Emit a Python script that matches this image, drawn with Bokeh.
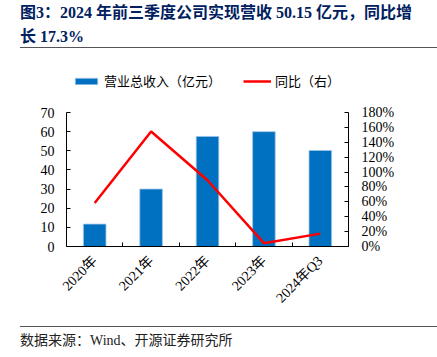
from math import pi
from bokeh.plotting import figure
from bokeh.layouts import column
from bokeh.models import (LinearAxis, Range1d, FixedTicker, Div,
                          PrintfTickFormatter, CustomJSTickFormatter,
                          Legend, LegendItem)
from bokeh.embed import file_html
from bokeh.resources import INLINE

# ---- data ----
categories = ["2020年", "2021年", "2022年", "2023年", "2024年Q3"]
revenue = [11.7, 30.0, 57.5, 60.0, 50.15]          # 营业总收入（亿元）
yoy_pct = [58.5, 154.5, 89.0, 4.5, 17.3]           # 同比（%）
left_ticks = [0, 10, 20, 30, 40, 50, 60, 70]
right_ticks = [0, 20, 40, 60, 80, 100, 120, 140, 160, 180]

title1 = "图3：2024 年前三季度公司实现营收 50.15 亿元，同比增"
title2 = "长 17.3%"
source = "数据来源：Wind、开源证券研究所"

n = len(categories)
xc = [i + 0.5 for i in range(n)]   # category centres

W = 437
NUM_FONT = "Liberation Serif, Noto Sans CJK SC"
CJK_FONT = "Noto Sans CJK SC"

# extra headroom above the axes for the legend (axes drawn only to 70 / 180%)
HEAD = 186 / 134
left_max, right_max = left_ticks[-1], right_ticks[-1]

title_div = Div(text=title1 + "<br>" + title2, width=W - 20, height=48,
                margin=(0, 0, 0, 20),
                styles={"font-family": "'Liberation Serif', 'Noto Sans CJK SC', serif",
                        "font-weight": "bold", "font-size": "16px",
                        "color": "#002060", "line-height": "24px",
                        "white-space": "nowrap",
                        "border-bottom": "1.5px solid #555555",
                        "box-sizing": "border-box", "padding-top": "1px"})

p = figure(width=W, height=278, x_range=(0, n), y_range=(0, left_max * HEAD),
           x_axis_type=None, y_axis_type=None,
           output_backend="svg", toolbar_location=None,
           min_border_left=66, min_border_right=89,
           min_border_top=12, min_border_bottom=80, margin=(0, 0, 0, 0))
p.outline_line_color = None
p.grid.visible = False
p.extra_y_ranges = {"pct": Range1d(0, right_max * HEAD)}

bars = p.vbar(x=xc, top=revenue, width=0.4, fill_color="#0070C0",
              line_color="#9DC3E6", line_width=0.8)
ln = p.line(xc, yoy_pct, y_range_name="pct", line_color="#FF0000",
            line_width=2.5)

def style_axis(ax):
    ax.major_tick_in = 4
    ax.major_tick_out = 0
    ax.minor_tick_line_color = None
    ax.axis_line_color = "#000000"
    ax.major_tick_line_color = "#000000"
    ax.major_label_text_font = NUM_FONT
    ax.major_label_text_font_size = "14px"
    ax.major_label_text_color = "#000000"

la = LinearAxis(ticker=FixedTicker(ticks=left_ticks), bounds=(0, left_max))
style_axis(la)
la.major_label_standoff = 12
p.add_layout(la, "left")

ra = LinearAxis(y_range_name="pct", ticker=FixedTicker(ticks=right_ticks),
                bounds=(0, right_max),
                formatter=PrintfTickFormatter(format="%d%%"))
style_axis(ra)
ra.major_label_standoff = 13
p.add_layout(ra, "right")

ta = LinearAxis(ticker=FixedTicker(ticks=list(range(n + 1))),
                formatter=CustomJSTickFormatter(code="return ''"))
style_axis(ta)
ta.major_label_standoff = 0
p.add_layout(ta, "below")

ca = LinearAxis(ticker=FixedTicker(ticks=xc),
                major_label_overrides={x: c for x, c in zip(xc, categories)})
style_axis(ca)
ca.axis_line_color = None
ca.major_tick_line_color = None
ca.major_label_orientation = pi / 4
ca.major_label_standoff = 12
p.add_layout(ca, "below")

legend = Legend(items=[LegendItem(label="营业总收入（亿元）", renderers=[bars]),
                       LegendItem(label="同比（右）", renderers=[ln])],
                orientation="horizontal", location=(6, 156),
                glyph_width=28, glyph_height=8, label_standoff=4, spacing=22,
                padding=0, margin=0, border_line_color=None,
                background_fill_alpha=0, label_text_font=CJK_FONT,
                label_text_font_size="13px", label_text_color="#000000")
p.add_layout(legend, "center")

source_div = Div(text=source, width=W - 20, height=31, margin=(0, 0, 0, 20),
                 styles={"font-family": "'Liberation Serif', 'Noto Sans CJK SC', serif",
                         "font-size": "14px", "color": "#222222",
                         "line-height": "16px", "white-space": "nowrap",
                         "border-top": "1.5px solid #555555",
                         "box-sizing": "border-box", "padding-top": "6px"})

layout = column(title_div, p, source_div, spacing=0)
open("out.html", "w").write(file_html(layout, INLINE))
